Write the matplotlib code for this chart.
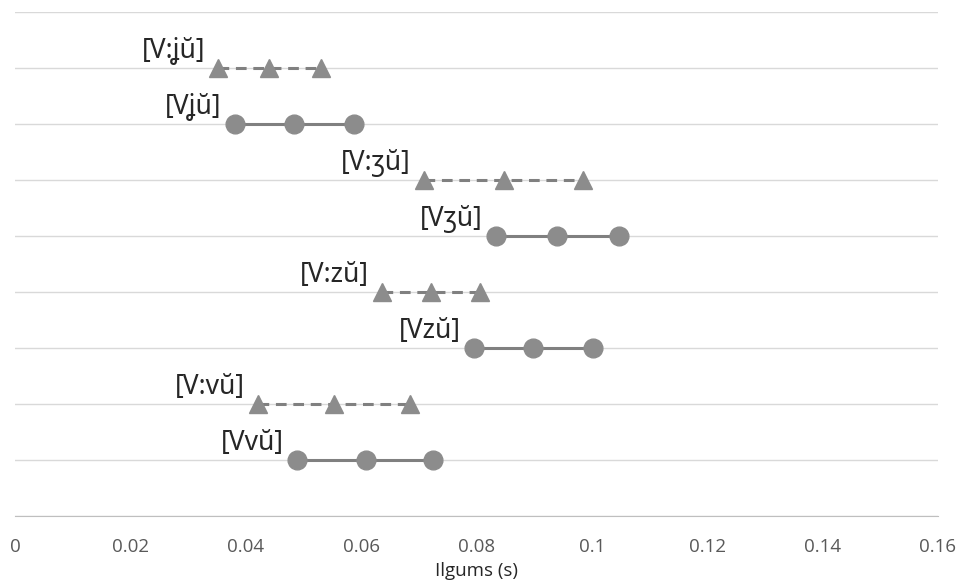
import matplotlib
matplotlib.use("Agg")
import matplotlib.pyplot as plt

plt.rcParams['font.family'] = ['Open Sans', 'Noto Sans', 'DejaVu Sans']

labels = ["[V:ʝŭ]", "[Vʝŭ]", "[V:ʒŭ]", "[Vʒŭ]", "[V:zŭ]", "[Vzŭ]", "[V:vŭ]", "[Vvŭ]"]
long_vowel = [True, False, True, False, True, False, True, False]
values = [
    [0.0352, 0.0440, 0.0530],
    [0.0381, 0.0484, 0.0588],
    [0.0709, 0.0848, 0.0985],
    [0.0834, 0.0940, 0.1047],
    [0.0636, 0.0721, 0.0806],
    [0.0796, 0.0898, 0.1002],
    [0.0421, 0.0553, 0.0685],
    [0.0489, 0.0608, 0.0725],
]
xticks = [0, 0.02, 0.04, 0.06, 0.08, 0.1, 0.12, 0.14, 0.16]
xticklabels = ["0", "0.02", "0.04", "0.06", "0.08", "0.1", "0.12", "0.14", "0.16"]
xlabel = "Ilgums (s)"

fig = plt.figure(figsize=(9.59, 5.81), dpi=100)
ax = fig.add_axes([15/959, 65/581, 923/959, 504/581])

n = len(labels)
color = '#8c8c8c'
line_color = '#808080'
for i, (lab, lv, vals) in enumerate(zip(labels, long_vowel, values)):
    y = n - i
    if lv:
        ax.plot(vals, [y]*len(vals), color=line_color, lw=2.2, ls=(0, (3.5, 2.2)),
                marker='^', ms=12.5, mfc=color, mec=color, zorder=3)
    else:
        ax.plot(vals, [y]*len(vals), color=line_color, lw=2.2, ls='-',
                marker='o', ms=13.5, mfc=color, mec=color, zorder=3)
    ax.annotate(lab, xy=(vals[0], y), xytext=(-13, 17), textcoords='offset pixels',
                ha='right', va='center', fontsize=19, color='#262626',
                family=['Noto Sans', 'DejaVu Sans'])

ax.set_xlim(0, 0.16)
ax.set_ylim(0, 9)
ax.set_yticks(range(0, 10))
ax.set_yticklabels([])
ax.tick_params(axis='y', length=0)
ax.grid(axis='y', color='#d9d9d9', lw=1)
ax.set_axisbelow(True)
ax.set_xticks(xticks)
ax.set_xticklabels(xticklabels, fontsize=13.5, color='#595959')
ax.tick_params(axis='x', length=0, pad=16)
for s in ['top', 'right', 'left']:
    ax.spines[s].set_visible(False)
ax.spines['bottom'].set_color('#bfbfbf')
ax.set_xlabel(xlabel, fontsize=13.5, color='#262626', labelpad=4)

fig.savefig('out.png', dpi=100)
